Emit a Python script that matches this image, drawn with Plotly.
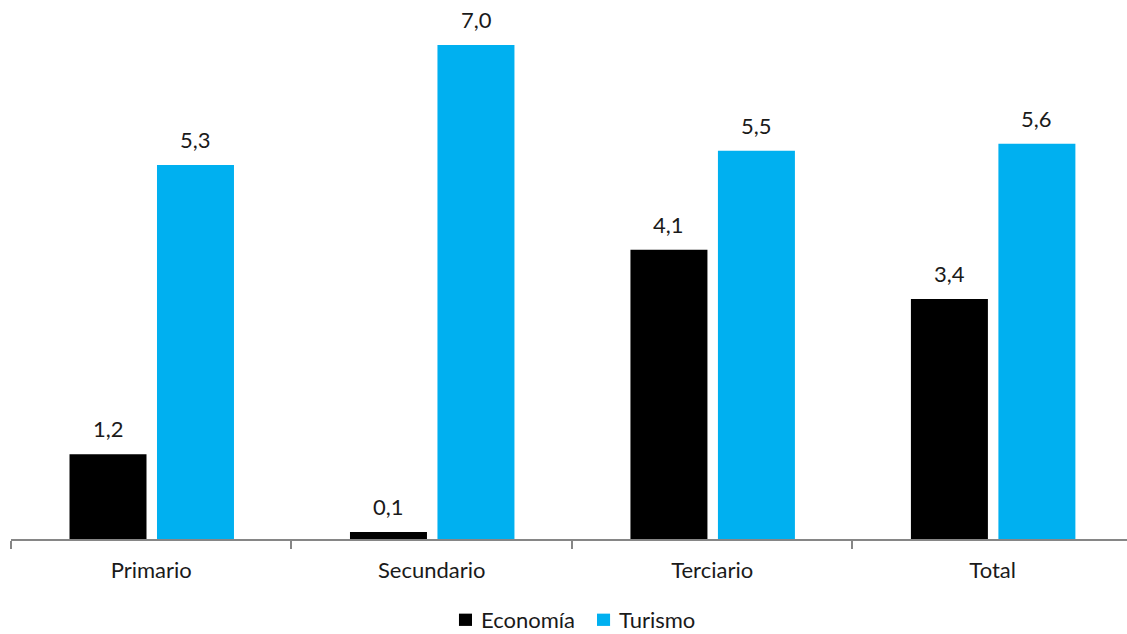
import plotly.graph_objects as go

categories = ["Primario", "Secundario", "Terciario", "Total"]
economia = [1.2, 0.1, 4.1, 3.4]
turismo = [5.3, 7.0, 5.5, 5.6]
series_names = ["Economía", "Turismo"]

FONT = "Lato"
BLACK = "#000000"
BLUE = "#00B0F0"
TXT = "#1a1a1a"

def fmt(v):
    return f"{v:.1f}".replace(".", ",")

fig = go.Figure()
fig.add_trace(go.Bar(x=categories, y=economia, name=series_names[0],
                     marker=dict(color=BLACK, line=dict(width=0)),
                     offset=-0.2914, width=0.2745, showlegend=False))
fig.add_trace(go.Bar(x=categories, y=turismo, name=series_names[1],
                     marker=dict(color=BLUE, line=dict(width=0)),
                     offset=0.0205, width=0.2745, showlegend=False))

annotations = []
for i, c in enumerate(categories):
    for vals, xs in ((economia, -0.154), (turismo, 0.158)):
        annotations.append(dict(x=i + xs, y=vals[i], xref="x", yref="y",
                                text=fmt(vals[i]), showarrow=False,
                                yanchor="bottom", yshift=10,
                                font=dict(family=FONT, size=22, color=TXT)))

# legend (drawn manually so it does not push the plot margins)
shapes = []
legend_items = [(series_names[0], BLACK, 0.4014, 0.4194),
                (series_names[1], BLUE, 0.5251, 0.5430)]
for name, col, sx, tx in legend_items:
    shapes.append(dict(type="rect", xref="paper", yref="paper",
                       x0=sx, x1=sx + 0.0117, y0=-0.1643, y1=-0.1411,
                       fillcolor=col, line=dict(width=0)))
    annotations.append(dict(x=tx, y=-0.1520, xref="paper", yref="paper",
                            text=name, showarrow=False, xanchor="left",
                            yanchor="middle",
                            font=dict(family=FONT, size=22, color=TXT)))

fig.update_layout(
    width=1127, height=634,
    margin=dict(l=11, r=0, t=10, b=94.5),
    plot_bgcolor="white", paper_bgcolor="white",
    barmode="overlay",
    showlegend=False,
    annotations=annotations,
    shapes=shapes,
    xaxis=dict(type="category", range=[-0.5, 3.479], showline=True,
               linecolor="#868686", linewidth=2, ticks="outside",
               tickson="boundaries", ticklen=8, tickcolor="#868686",
               tickwidth=2, showgrid=False, ticklabelstandoff=11,
               tickfont=dict(family=FONT, size=22, color=TXT)),
    yaxis=dict(range=[0, 7.496], visible=False, showgrid=False, zeroline=False),
)

fig.write_html("out.html", config={"displayModeBar": False},
               post_script="document.body.style.margin='0';")
